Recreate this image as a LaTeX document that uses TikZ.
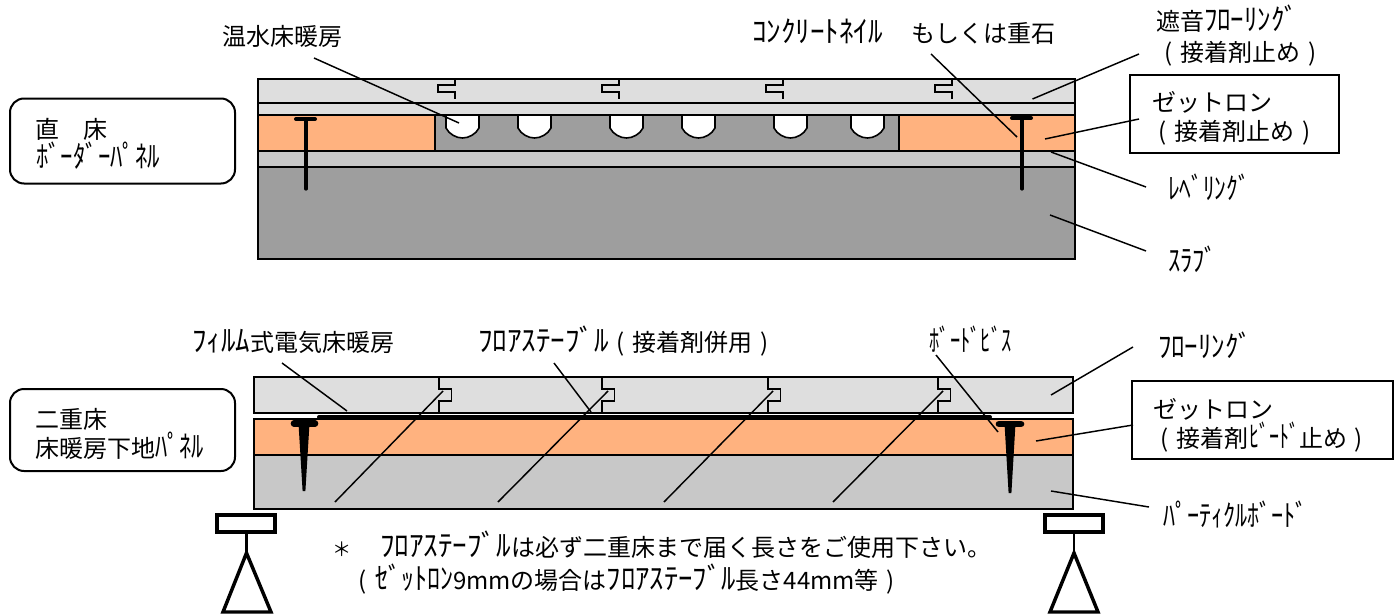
\documentclass[tikz,border=0pt]{standalone}
\usepackage{fontspec}
\usepackage{graphicx}
\setmainfont{Noto Sans CJK JP}
\newdimen\pxu \pxu=.75pt
\newcommand\fitw[2]{\resizebox{#1\pxu}{1.25\height}{#2}}
\newcommand\lp{\makebox[24\pxu][c]{(}}
\newcommand\rp{\makebox[24\pxu][c]{)}}
\definecolor{floorgray}{HTML}{DEDEDE}
\definecolor{midgray}{HTML}{C8C8C8}
\definecolor{slabgray}{HTML}{9E9E9E}
\definecolor{zet}{HTML}{FFB27F}
\tikzset{
  lbl/.style={inner sep=0pt,outer sep=0pt,anchor=west,font=\fontsize{18pt}{20pt}\selectfont,text height=15.84pt,text depth=2.16pt},
  layer/.style={draw=black,line width=1.5pt},
  leader/.style={draw=black,line width=1.1pt},
  thinpart/.style={draw=black,line width=1.2pt},
  panelbox/.style={draw=black,line width=1.5pt,fill=white,outer sep=0pt,inner sep=0pt,anchor=north west},
  nailshaft/.style={draw=black,line width=2.4pt,line cap=round},
  nailhead/.style={draw=black,line width=3pt,line cap=round},
  screwhead/.style={draw=black,line width=5pt,line cap=round},
  screwleg/.style={draw=black,line width=2.1pt,line cap=round},
  support/.style={draw=black,line width=2.6pt,fill=white},
}
\begin{document}
\begin{tikzpicture}[x=.75pt,y=-.75pt]
\useasboundingbox (0,0) rectangle (1399,614);
% ---- upper section
\fill[floorgray] (258,79) rectangle (1075,115);
\fill[zet] (258,115) rectangle (435,151);
\fill[slabgray] (435,115) rectangle (899,151);
\fill[zet] (899,115) rectangle (1075,151);
\fill[midgray] (258,151) rectangle (1075,167);
\fill[slabgray] (258,167) rectangle (1075,259);
\foreach \x in {446,518,610,682,774,851}{
  \path[thinpart,fill=white] (\x,115) -- (\x,128) .. controls (\x+3,134) and (\x+10,138) .. (\x+16.5,138)
     .. controls (\x+23,138) and (\x+30,134) .. (\x+33,128) -- (\x+33,115);
}
\draw[layer] (258,79) rectangle (1075,259);
\foreach \y in {103,115,151,167} \draw[layer] (258,\y) -- (1075,\y);
\draw[thinpart] (435,115) -- (435,151);
\draw[thinpart] (899,115) -- (899,151);
\foreach \x in {438,602,766,935}{
  \draw[thinpart] (\x+17,79) -- (\x+17,85) -- (\x,85) -- (\x,92) -- (\x+17,92) -- (\x+17,99);
}
\draw[nailshaft] (306,119) -- (306,189);
\draw[nailhead] (296,119) -- (315,119);
\draw[nailshaft] (1022,118) -- (1022,189);
\draw[nailhead] (1012,118) -- (1031,118);
% ---- lower section
\fill[floorgray] (254,377) rectangle (1073,413);
\fill[zet] (254,419) rectangle (1073,455);
\fill[midgray] (254,455) rectangle (1073,509);
\draw[layer] (254,377) rectangle (1073,413);
\draw[layer] (254,419) rectangle (1073,509);
\draw[layer] (254,455) -- (1073,455);
\foreach \x in {439,602,768,938}{
  \draw[thinpart] (\x,377) -- (\x,389) -- (\x+12.5,389) -- (\x+12.5,401) -- (\x,401) -- (\x,413);
}
\draw[draw=black,line width=3pt,line cap=round] (319,417) -- (990,417);
\draw[screwleg,fill=black] (300,425) -- (304,491) -- (308,425);
\draw[screwhead] (294,423.5) -- (315,423.5);
\draw[screwleg,fill=black] (1006,425) -- (1010,493) -- (1014,425);
\draw[screwhead] (999,424) -- (1021,424);
% ---- supports
\draw[support] (217,515) rectangle (275,532);
\draw[support] (1045,515) rectangle (1103,532);
\draw[line width=1.8pt] (246.5,532) -- (246.5,553);
\draw[line width=1.8pt] (1074,532) -- (1074,553);
\draw[support,line join=miter] (246.5,553) -- (271,612) -- (223,612) -- cycle;
\draw[support,line join=miter] (1074,553) -- (1098,612) -- (1050,612) -- cycle;
% ---- boxes
\node[panelbox,rounded corners=10.5pt,minimum width=225\pxu,minimum height=85\pxu] (boxA) at (10,98.5) {};
\node[panelbox,rounded corners=10.5pt,minimum width=225\pxu,minimum height=82\pxu] (boxB) at (10,389) {};
\node[panelbox,minimum width=209\pxu,minimum height=78\pxu] (boxC) at (1130,75) {};
\node[panelbox,minimum width=261\pxu,minimum height=78\pxu] (boxD) at (1132,381) {};
% ---- labels
\node[lbl] (t1) at (222,36) {温水床暖房};
\node[lbl] (t2) at (752,33) {\fitw{131}{ｺﾝｸﾘｰﾄﾈｲﾙ}};
\node[lbl] (t3) at (911,33) {もしくは重石};
\node[lbl] (t4) at (1156,21) {遮音\fitw{94}{ﾌﾛｰﾘﾝｸﾞ}};
\node[lbl] (t5) at (1157,52) {\lp 接着剤止め\rp};
\node[lbl] (t6) at (1152,102) {ゼットロン};
\node[lbl] (t7) at (1151,131) {\lp 接着剤止め\rp};
\node[lbl] (t8) at (1168,190) {\fitw{82}{ﾚﾍﾞﾘﾝｸﾞ}};
\node[lbl] (t9) at (1168,262) {\fitw{49}{ｽﾗﾌﾞ}};
\node[lbl] (t10) at (36,129) {直　床};
\node[lbl] (t11) at (36,158) {\fitw{124}{ﾎﾞｰﾀﾞｰﾊﾟﾈﾙ}};
\node[lbl] (t12) at (192,342) {\fitw{58}{ﾌｨﾙﾑ}式電気床暖房};
\node[lbl] (t13) at (478,342) {\fitw{131}{ﾌﾛｱｽﾃｰﾌﾞﾙ}\lp 接着剤併用\rp};
\node[lbl] (t14) at (929.5,342) {\fitw{82}{ﾎﾞｰﾄﾞﾋﾞｽ}};
\node[lbl] (t15) at (1158,348) {\fitw{94}{ﾌﾛｰﾘﾝｸﾞ}};
\node[lbl] (t16) at (1153,409) {ゼットロン};
\node[lbl] (t17) at (1153,438) {\lp 接着剤\fitw{50}{ﾋﾞｰﾄﾞ}止め\rp};
\node[lbl] (t18) at (1163,517) {\fitw{145}{ﾊﾟｰﾃｨｸﾙﾎﾞｰﾄﾞ}};
\node[lbl] (t19) at (35,419) {二重床};
\node[lbl] (t20) at (35,448) {床暖房下地\fitw{49}{ﾊﾟﾈﾙ}};
\node[lbl] (t21) at (332.5,547) {\scalebox{.8}{＊}};
\node[lbl] (t22) at (380,547) {\fitw{131}{ﾌﾛｱｽﾃｰﾌﾞﾙ}は必ず二重床まで届く長さをご使用下さい。};
\node[lbl] (t23) at (351,580) {\lp\fitw{78}{ｾﾞｯﾄﾛﾝ}9mmの場合は\fitw{129}{ﾌﾛｱｽﾃｰﾌﾞﾙ}長さ44mm等\rp};
% ---- leader lines
\coordinate (a1) at (314,58);   \coordinate (b1) at (459,123);
\coordinate (a2) at (931,54);   \coordinate (b2) at (1017,137);
\coordinate (a3) at (1139,54);  \coordinate (b3) at (1032.5,99);
\coordinate (a4) at (1139,119); \coordinate (b4) at (1045,139);
\coordinate (a5) at (1146,187); \coordinate (b5) at (1051,152);
\coordinate (a6) at (1146,251); \coordinate (b6) at (1050,215);
\coordinate (a7) at (282,363);  \coordinate (b7) at (347,411);
\coordinate (a8) at (554,363);  \coordinate (b8) at (591,412);
\coordinate (a9) at (936,355);  \coordinate (b9) at (998,432);
\coordinate (a10) at (1133,347);\coordinate (b10) at (1051,395);
\coordinate (a11) at (1133,425);\coordinate (b11) at (1036,441);
\coordinate (a12) at (1149,507);\coordinate (b12) at (1051,491);
\coordinate (a13) at (443,391); \coordinate (b13) at (335,502);
\coordinate (a14) at (608,391); \coordinate (b14) at (498,502);
\coordinate (a15) at (773,391); \coordinate (b15) at (664,502);
\coordinate (a16) at (943,391); \coordinate (b16) at (833,502);
\foreach \i in {1,...,16} \draw[leader] (a\i) -- (b\i);
\end{tikzpicture}
\end{document}
